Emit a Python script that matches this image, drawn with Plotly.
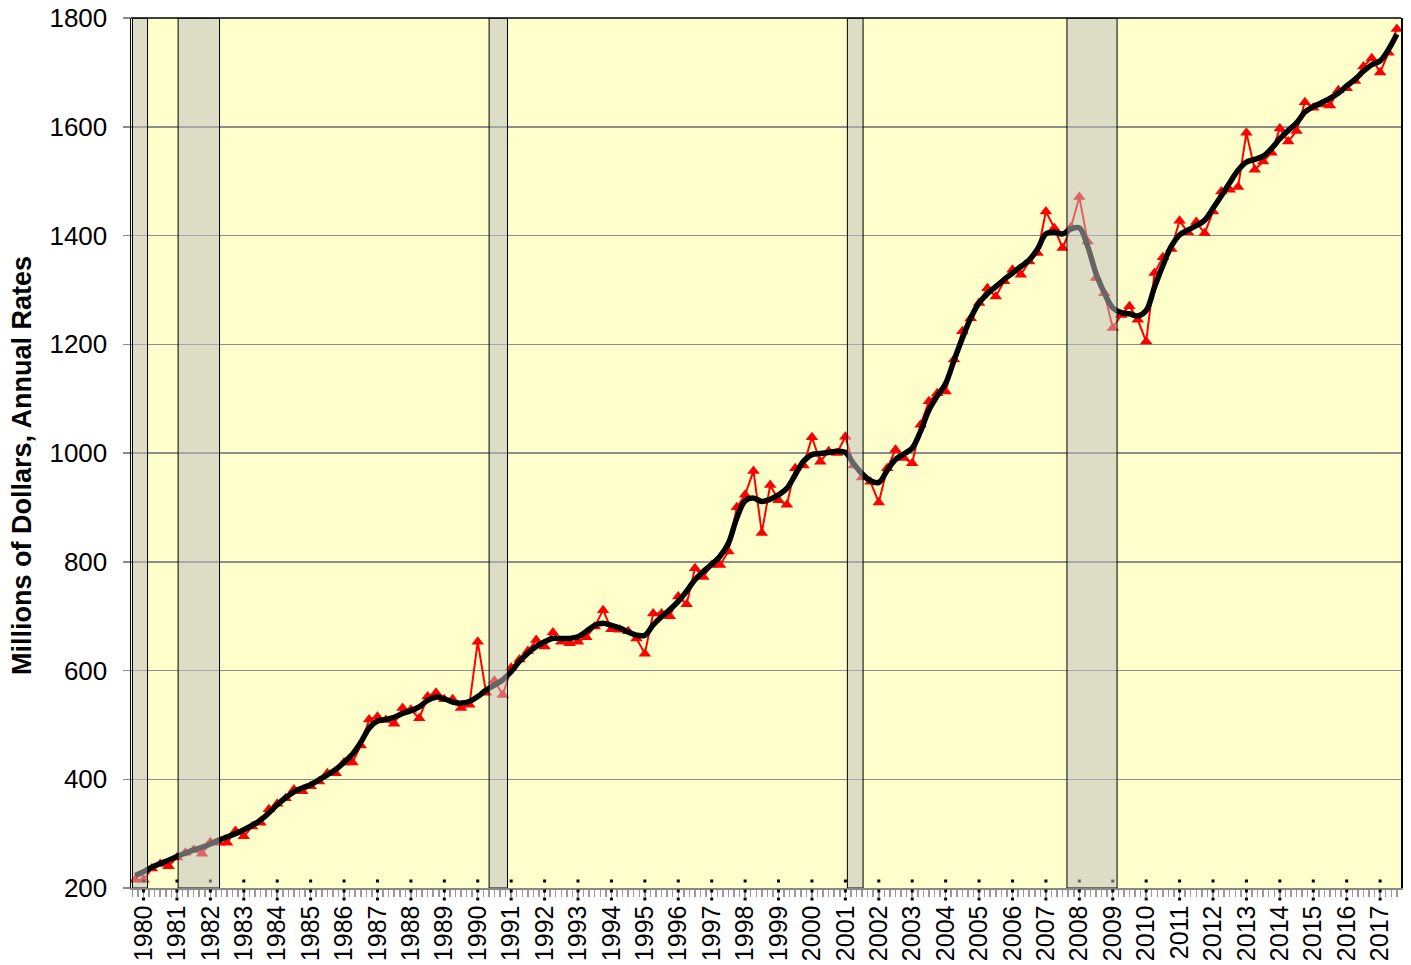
import plotly.graph_objects as go

# ---------------- data ----------------
years = list(range(1980, 2018))
quarters = [f"{y}Q{q}" for y in years for q in range(1, 5)]

actual = [
    215, 215, 236, 244,   240, 256, 265, 270,   263, 284, 283, 283,   305, 295, 313, 320,
    345, 355, 365, 381,   378, 387, 396, 411,   411, 431, 431, 462,   510, 515, 509, 502,
    531, 528, 512, 552,   559, 547, 547, 531,   537, 653, 559, 581,   555, 605, 620, 636,
    656, 644, 670, 653,   650, 653, 661, 681,   711, 676, 675, 672,   659, 631, 705, 705,
    700, 736, 722, 788,   772, 794, 794, 819,   900, 923, 967, 853,   941, 913, 905, 972,
    977, 1029, 984, 1003, 1000, 1030, 977, 955, 947, 909, 972, 1006, 991, 981, 1052, 1095,
    1110, 1113, 1172, 1224, 1248, 1276, 1303, 1288, 1316, 1337, 1328, 1352, 1368, 1444, 1414, 1377,
    1415, 1471, 1389, 1322, 1294, 1230, 1254, 1270, 1245, 1205, 1331, 1360, 1375, 1427, 1406, 1425,
    1404, 1444, 1481, 1484, 1489, 1589, 1521, 1536, 1552, 1597, 1573, 1592, 1645, 1635, 1641, 1639,
    1667, 1671, 1684, 1711, 1726, 1700, 1736, 1780,
]

smoothed = [
    223, 230, 238, 245,   251, 258, 264, 270,   275, 281, 288, 294,   300, 307, 315, 325,
    338, 353, 366, 377,   384, 390, 399, 408,   418, 431, 446, 468,   494, 507, 510, 514,
    521, 526, 533, 545,   551, 548, 542, 540,   543, 552, 564, 573,   583, 598, 617, 632,
    644, 653, 659, 659,   659, 662, 672, 683,   687, 683, 678, 671,   665, 665, 684, 699,
    712, 727, 746, 767,   782, 795, 810, 834,   880, 912, 917, 911,   915, 923, 935, 960,
    985, 997, 999, 1001,  1003, 1001, 980, 962, 949, 946, 968, 988,  998, 1009, 1040, 1079,
    1105, 1128, 1170, 1211, 1248, 1276, 1293, 1306, 1319, 1331, 1343, 1355, 1375, 1403, 1406, 1403,
    1412, 1414, 1380, 1330, 1294, 1267, 1258, 1256, 1252, 1262, 1305, 1345, 1380, 1401, 1410, 1418,
    1428, 1450, 1473, 1497, 1520, 1535, 1540, 1546, 1560, 1578, 1593, 1607, 1627, 1637, 1644, 1652,
    1662, 1675, 1687, 1702, 1714, 1721, 1742, 1770,
]

# recession periods (decimal years)
recession_start = [1979.92, 1981.285, 1990.59, 2001.31, 2007.88]
recession_end = [1980.37, 1982.524, 1991.14, 2001.78, 2009.38]

tick_labels = [str(y) for y in years]
y_ticks = [200, 400, 600, 800, 1000, 1200, 1400, 1600, 1800]


def qpos(label):
    y, q = label.split("Q")
    return int(y) + (int(q) - 1) / 4.0


x = [qpos(q) for q in quarters]
tick_pos = [y + 0.25 for y in years]

FONT = "Liberation Sans, Arial, sans-serif"
Y0, Y1 = 200, 1800
X0, X1 = 1979.875, 2017.875
unit = (Y1 - Y0) / 870.0          # data units per pixel in the main plot (870 px tall)
STRIP = 20                        # px strip under the main plot for the dotted year marks
DOM = STRIP / 890.0

fig = go.Figure()
fig.add_trace(go.Scatter(
    x=x, y=actual, mode="lines+markers",
    line=dict(color="#ff0000", width=2),
    marker=dict(symbol="triangle-up", size=11, color="#ff0000"),
    showlegend=False, hoverinfo="skip",
))
fig.add_trace(go.Scatter(
    x=x, y=smoothed, mode="lines",
    line=dict(color="#000000", width=5.5, shape="spline", smoothing=1),
    showlegend=False, hoverinfo="skip",
))
# dotted year marks: one dot inside the plot ...
fig.add_trace(go.Scatter(
    x=tick_pos, y=[Y0 + 7 * unit] * len(tick_pos), mode="markers",
    marker=dict(symbol="square", size=3, color="#000000"),
    showlegend=False, hoverinfo="skip",
))
# ... and two below the axis, in a thin strip subplot (y2 in px from strip bottom)
for off in (17, 9):
    fig.add_trace(go.Scatter(
        x=tick_pos, y=[off] * len(tick_pos), mode="markers", xaxis="x2", yaxis="y2",
        marker=dict(symbol="square", size=3, color="#000000"),
        cliponaxis=False, showlegend=False, hoverinfo="skip",
    ))

shapes = [
    # yellow plot background for the main panel only
    dict(type="rect", xref="x domain", yref="y domain", x0=0, x1=1, y0=0, y1=1,
         fillcolor="#ffffcc", line=dict(width=0), layer="below"),
]
for s, e in zip(recession_start, recession_end):
    shapes.append(dict(type="rect", xref="x", yref="y", x0=s, x1=e, y0=Y0, y1=Y1,
                       fillcolor="rgba(190,190,190,0.53)",
                       line=dict(color="#000000", width=1), layer="above"))
# top border
shapes.append(dict(type="line", xref="paper", yref="paper", x0=0, x1=1, y0=1, y1=1,
                   line=dict(color="#000000", width=1.5), layer="above"))

fig.update_layout(
    width=1411, height=965,
    margin=dict(l=131, r=10, t=18, b=77 - STRIP, autoexpand=False),
    paper_bgcolor="#ffffff",
    plot_bgcolor="rgba(0,0,0,0)",
    shapes=shapes,
    hovermode=False,
    font=dict(family=FONT, color="#000000"),
    annotations=[dict(
        text="<b>Millions of Dollars, Annual Rates</b>", textangle=-90,
        xref="paper", yref="paper", x=-0.0858, y=0.4966,
        xanchor="center", yanchor="middle", showarrow=False,
        font=dict(family=FONT, size=27, color="#000000"),
    )],
    xaxis=dict(
        range=[X0, X1], automargin=False, anchor="y",
        tickmode="array", tickvals=tick_pos, ticktext=tick_labels,
        tickangle=-90, ticks="", ticklabelstandoff=6, ticklabeloverflow="allow",
        tickfont=dict(family=FONT, size=25, color="#000000"),
        showgrid=False, zeroline=False,
        showline=True, linecolor="#888888", linewidth=1.5,
        minor=dict(ticks="outside", tick0=1980.25, dtick=1 / 6.0, ticklen=7,
                   tickcolor="#999999", tickwidth=1.5, showgrid=False),
    ),
    yaxis=dict(
        range=[Y0, Y1], automargin=False, domain=[DOM, 1],
        tickmode="array", tickvals=y_ticks,
        ticks="outside", ticklen=7, tickcolor="#888888", tickwidth=1.5,
        ticklabelstandoff=10, ticklabeloverflow="allow",
        tickfont=dict(family=FONT, size=26, color="#000000"),
        showgrid=True, gridcolor="#8c8c8c", gridwidth=1.5,
        zeroline=False,
        showline=True, linecolor="#000000", linewidth=1.5, mirror=True,
    ),
    xaxis2=dict(range=[X0, X1], anchor="y2", visible=False, automargin=False),
    yaxis2=dict(range=[0, STRIP], domain=[0, DOM], anchor="x2", visible=False,
                automargin=False),
)

# remove the browser's default 8px body margin so the figure sits at the page origin
fig.write_html("out.html",
               config={"displayModeBar": False, "staticPlot": True},
               post_script="document.body.style.margin='0px';"
                           "document.body.style.overflow='hidden';")
